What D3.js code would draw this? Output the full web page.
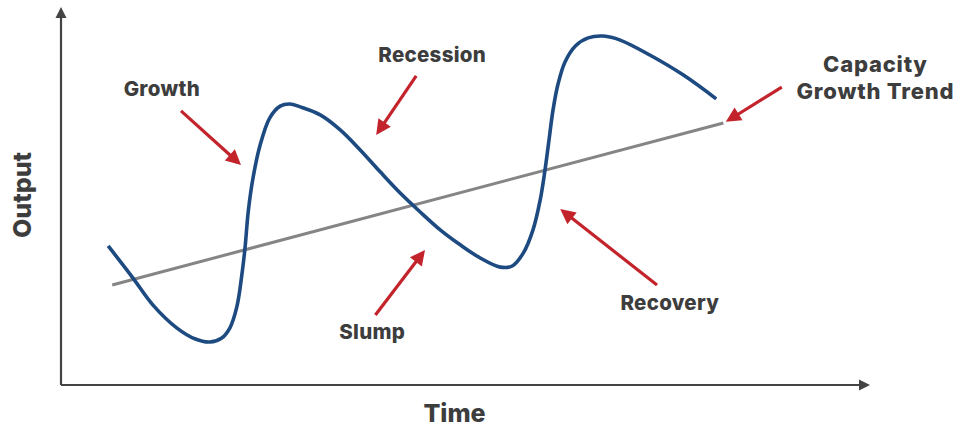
<!DOCTYPE html>
<html>
<head>
<meta charset="utf-8">
<script src="https://cdn.jsdelivr.net/npm/d3@7"></script>
<style>
  html, body { margin: 0; padding: 0; background: #fff; }
  svg { display: block; }
  text { font-family: Inter, "Open Sans", sans-serif; font-weight: 800; fill: #3d3d3d; }
</style>
</head>
<body>
<svg id="chart" width="970" height="434"></svg>
<script>
// ---- Data (time, output in arbitrary units 0..100) ----
const cycleTime = [5.9, 9.0, 11.5, 14.5, 16.8, 18.6, 20.1, 21.1, 22.0, 22.6, 23.0, 23.4, 24.0, 24.9, 26.1, 27.4, 28.6,
  29.9, 32.4, 34.9, 37.4, 39.9, 42.4, 44.9, 47.4, 49.9, 52.4, 54.9, 56.4, 57.8, 59.0, 59.9, 60.5, 61.0, 61.5, 62.1, 63.0,
  64.3, 65.9, 67.8, 69.9, 73.6, 77.8, 81.9];
const cycleOutput = [38.1, 29.3, 21.9, 15.6, 12.6, 11.8, 12.9, 15.6, 21.6, 30.1, 37.5, 47.4, 56.7, 65.8, 73.2, 76.4, 77.0,
  76.2, 74.0, 69.9, 64.4, 58.4, 52.6, 47.4, 42.5, 38.4, 34.8, 32.3, 32.6, 36.2, 42.5, 50.7, 58.9, 67.1, 75.3, 82.2, 88.5,
  92.9, 95.1, 95.6, 94.5, 90.4, 84.9, 78.4];
const trendTime = [6.4, 82.8];
const trendOutput = [27.4, 71.8];

// annotations: label text and arrow (from -> to) in data units
const annoLabels = ["Growth", "Recession", "Slump", "Recovery", "Capacity\nGrowth Trend"];
const arrowFromTime = [15.0, 44.4, 39.3, 74.5, 90.1];
const arrowFromOutput = [75.1, 84.7, 19.2, 27.4, 81.6];
const arrowToTime = [22.5, 39.4, 45.5, 62.4, 83.1];
const arrowToOutput = [60.3, 68.5, 37.0, 48.2, 72.1];
const labelTime = [12.6, 46.4, 38.9, 76.1, 101.8];
const labelOutput = [79.2, 88.5, 12.6, 20.5, 85.8];

const axisLabels = { x: "Time", y: "Output" };

// ---- Layout ----
const svg = d3.select("#chart");
const x = d3.scaleLinear().domain([0, 100]).range([61, 861]);
const y = d3.scaleLinear().domain([0, 100]).range([385, 20]);

const axisColor = "#444444";
const blue = "#1d4a80";
const red = "#c3232b";
const gray = "#858585";

// axes
svg.append("line").attr("x1", x(0)).attr("y1", y(0)).attr("x2", x(0)).attr("y2", y(0) - 368)
  .attr("stroke", axisColor).attr("stroke-width", 2.2);
svg.append("path")
  .attr("d", `M${x(0)},${y(0) - 378} L${x(0) - 5.5},${y(0) - 367} L${x(0) + 5.5},${y(0) - 367} Z`)
  .attr("fill", axisColor);
svg.append("line").attr("x1", x(0)).attr("y1", y(0)).attr("x2", x(100) - 1).attr("y2", y(0))
  .attr("stroke", axisColor).attr("stroke-width", 2.2);
svg.append("path")
  .attr("d", `M${x(100) + 9},${y(0)} L${x(100) - 2},${y(0) - 5.5} L${x(100) - 2},${y(0) + 5.5} Z`)
  .attr("fill", axisColor);

// trend line
const trend = trendTime.map((t, i) => [t, trendOutput[i]]);
svg.append("path")
  .datum(trend)
  .attr("d", d3.line().x(d => x(d[0])).y(d => y(d[1])))
  .attr("fill", "none").attr("stroke", gray).attr("stroke-width", 3);

// business cycle curve
const cycle = cycleTime.map((t, i) => [t, cycleOutput[i]]);
svg.append("path")
  .datum(cycle)
  .attr("d", d3.line().x(d => x(d[0])).y(d => y(d[1])).curve(d3.curveCatmullRom.alpha(0.5)))
  .attr("fill", "none").attr("stroke", blue).attr("stroke-width", 3.6);

// arrows
function arrow(x1, y1, x2, y2) {
  const dx = x2 - x1, dy = y2 - y1, len = Math.hypot(dx, dy);
  const ux = dx / len, uy = dy / len;
  const headLen = 15, headHalf = 7.5;
  const bx = x2 - ux * headLen, by = y2 - uy * headLen;
  const px = -uy, py = ux;
  svg.append("line").attr("x1", x1).attr("y1", y1).attr("x2", bx + ux * 2).attr("y2", by + uy * 2)
    .attr("stroke", red).attr("stroke-width", 3.2);
  svg.append("path")
    .attr("d", `M${x2},${y2} L${bx + px * headHalf},${by + py * headHalf} L${bx - px * headHalf},${by - py * headHalf} Z`)
    .attr("fill", red);
}
annoLabels.forEach((lab, i) => {
  arrow(x(arrowFromTime[i]), y(arrowFromOutput[i]), x(arrowToTime[i]), y(arrowToOutput[i]));
  const lines = lab.split("\n");
  const big = lines.length > 1;
  lines.forEach((ln, j) => {
    svg.append("text")
      .attr("x", x(labelTime[i])).attr("y", y(labelOutput[i]) + j * 27)
      .attr("text-anchor", "middle")
      .style("font-size", big ? "22px" : "20.5px")
      .style("letter-spacing", big ? "0.8px" : "0.3px")
      .text(ln);
  });
});

// axis titles
svg.append("text").attr("x", 454.5).attr("y", 422).attr("text-anchor", "middle")
  .style("font-size", "25px").text(axisLabels.x);
svg.append("text").attr("transform", "translate(31,195) rotate(-90)").attr("text-anchor", "middle")
  .style("font-size", "25px").text(axisLabels.y);
</script>
</body>
</html>
